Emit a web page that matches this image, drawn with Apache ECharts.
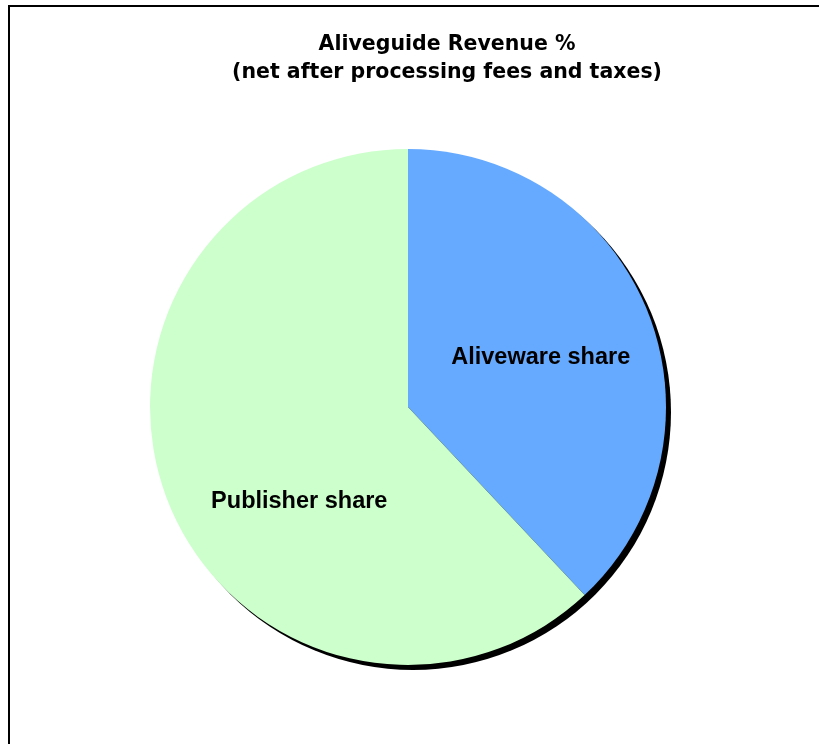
<!DOCTYPE html>
<html>
<head>
<meta charset="utf-8">
<script src="https://cdn.jsdelivr.net/npm/echarts@6/dist/echarts.min.js"></script>
<style>
  html, body { margin: 0; padding: 0; background: #fff; }
  #chart { width: 819px; height: 744px; }
</style>
</head>
<body>
<div id="chart"></div>
<script>
// revenue split (percent)
const categories = ["Aliveware share", "Publisher share"];
const shares = [38, 62];
const colors = ["#66aaff", "#ccffcc"];

const myChart = echarts.init(document.getElementById("chart"));

myChart.setOption({
  animation: false,
  title: {
    text: "Aliveguide Revenue %\n(net after processing fees and taxes)",
    left: 442,
    top: 26,
    textAlign: "center",
    textStyle: {
      fontFamily: "DejaVu Sans",
      fontWeight: "bold",
      fontSize: 20.5,
      lineHeight: 28,
      color: "#000"
    }
  },
  graphic: [
    {
      type: "rect",
      shape: { x: 9, y: 6, width: 900, height: 800 },
      style: { fill: "none", stroke: "#000", lineWidth: 2 },
      silent: true
    }
  ],
  series: [
    {
      // drop shadow under the pie
      type: "pie",
      center: [413, 412],
      radius: 258,
      silent: true,
      z: 1,
      label: { show: false },
      labelLine: { show: false },
      data: [{ value: 1, itemStyle: { color: "#000" } }]
    },
    {
      type: "pie",
      center: [408, 407],
      radius: 258,
      startAngle: 90,
      clockwise: true,
      z: 2,
      itemStyle: { borderWidth: 0 },
      label: {
        show: true,
        position: "inside",
        fontFamily: "Liberation Sans",
        fontWeight: "bold",
        fontSize: 23.5,
        color: "#000"
      },
      labelLine: { show: false },
      data: categories.map((name, i) => ({
        name: name,
        value: shares[i],
        itemStyle: { color: colors[i] },
        label: { offset: i === 0 ? [10, -1] : [14, 46] }
      }))
    }
  ]
});
</script>
</body>
</html>
